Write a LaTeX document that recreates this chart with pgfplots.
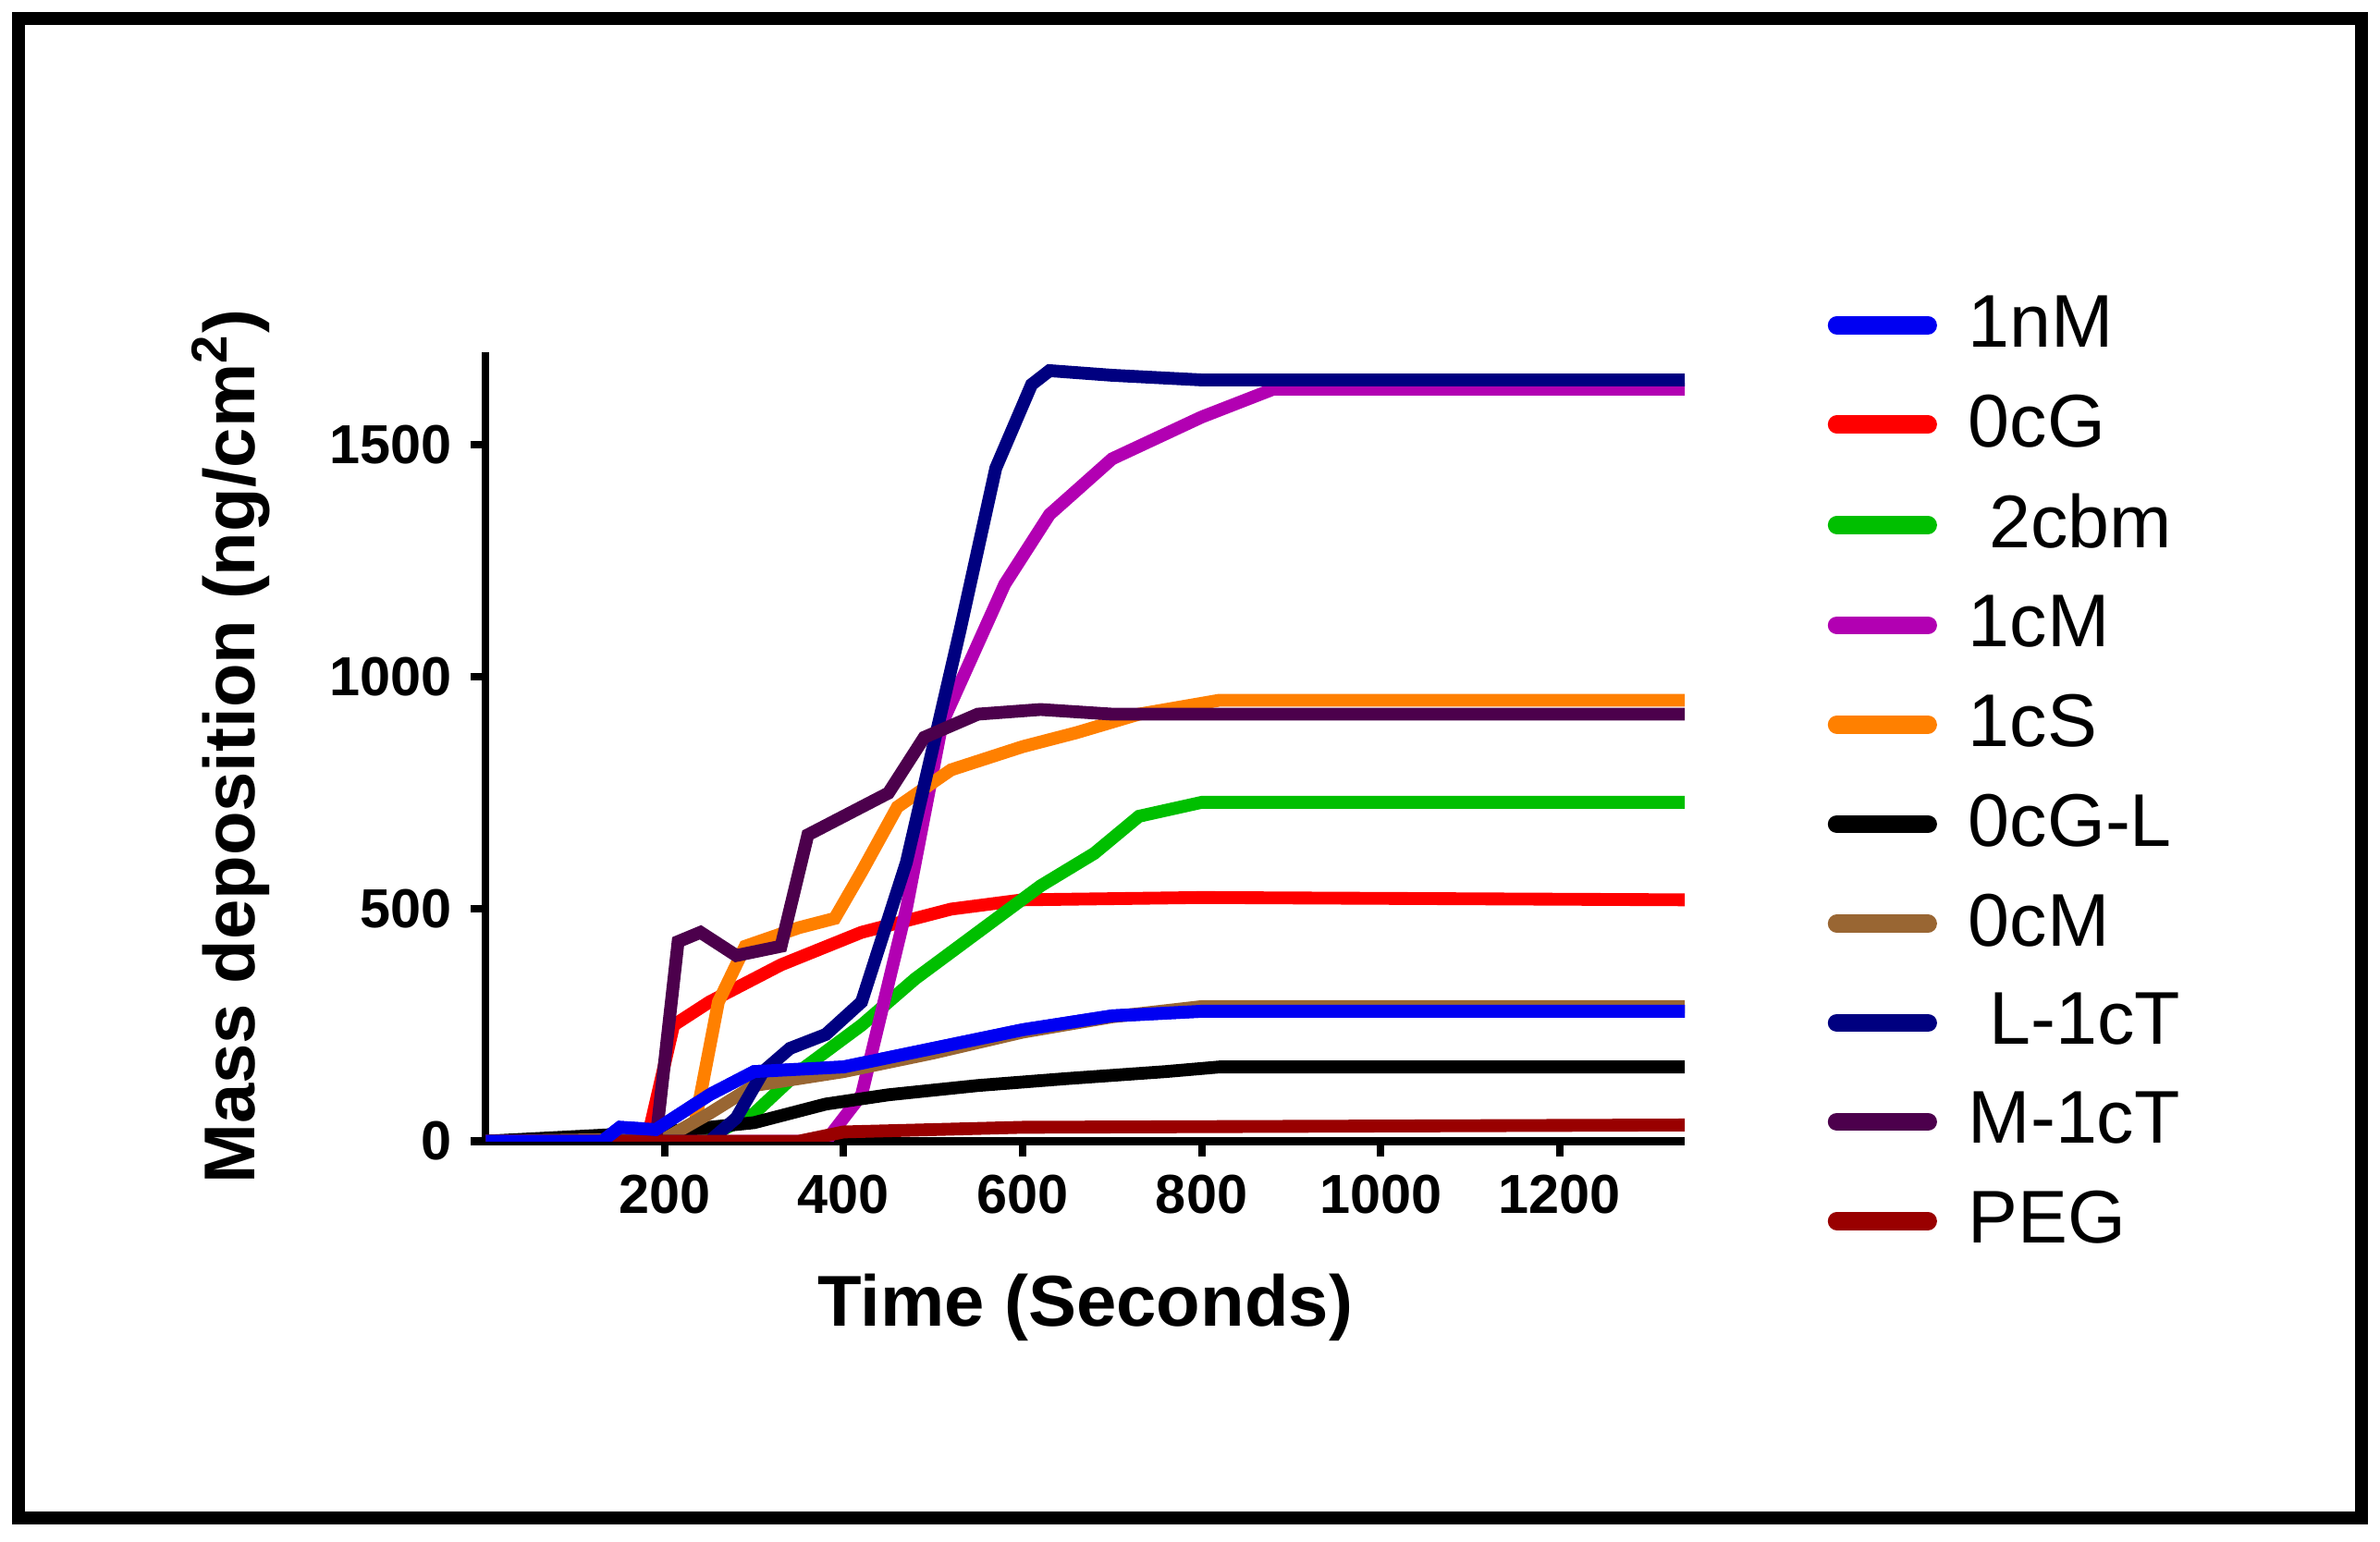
\documentclass[border=0pt]{standalone}
\usepackage{pgfplots}
\pgfplotsset{compat=1.18}
\usepackage{fontspec}
\setmainfont{Liberation Sans}
\begin{document}
\begin{tikzpicture}
\path (0,0) rectangle (15.68cm,10.16cm);
\draw[line width=2.4pt] (0.12cm,0.16cm) rectangle (15.56cm,10.04cm);
\begin{axis}[at={(3.2cm,2.64cm)},anchor=origin,
 scale only axis, width=7.9cm, height=5.2cm,
 xmin=0,xmax=1340,ymin=0,ymax=1700,
 axis x line=bottom, axis y line=left,
 axis line style={line width=1.4pt,-},
 tick style={line width=1.4pt,black}, tick align=outside, major tick length=1mm,
 xtick={200,400,...,1200}, ytick={0,500,1000,1500},
 /pgf/number format/assume math mode=true,
 /pgf/number format/set thousands separator={},
 ticklabel style={font=\bfseries\fontsize{10.3}{12}\selectfont},
 xlabel={\bfseries Time (Seconds)}, ylabel={\bfseries Mass deposition (ng/cm$^{\mathbf 2}$)},
 label style={font=\bfseries\fontsize{13.5}{15}\selectfont},
 xlabel style={yshift=-1.5mm}, ylabel style={yshift=1.5mm},
 legend style={draw=none,at={(1.105,1.10)},anchor=north west,font=\fontsize{14}{16}\selectfont,row sep=3.4pt,fill=none},
 legend cell align=left,
 legend image code/.code={\draw[line width=3.4pt,line cap=round] (0cm,0cm) -- (0.6cm,0cm);},
]
\addplot[line width=2.4pt,color=blue!95!black] coordinates {(0,0)(130,0)(150,30)(190,25)(250,100)(300,150)(400,160)(500,200)(600,240)(700,270)(800,280)(1340,280)};
\addlegendentry{\ 1nM}
\addplot[line width=2.4pt,color=red] coordinates {(0,0)(180,0)(210,250)(250,300)(330,380)(420,450)(520,500)(600,520)(800,525)(1340,520)};
\addlegendentry{\ 0cG}
\addplot[line width=2.4pt,color=green!75!black] coordinates {(0,0)(200,0)(250,10)(300,60)(350,150)(420,250)(480,350)(550,450)(620,550)(680,620)(730,700)(800,730)(1340,730)};
\addlegendentry{\ \ 2cbm}
\addplot[line width=2.4pt,color=violet!60!magenta] coordinates {(0,0)(380,0)(420,100)(470,500)(510,900)(580,1200)(630,1350)(700,1470)(800,1560)(880,1620)(1340,1620)};
\addlegendentry{\ 1cM}
\addplot[line width=2.4pt,color=orange] coordinates {(0,0)(230,0)(260,300)(290,420)(350,460)(390,480)(420,580)(460,720)(520,800)(600,850)(660,880)(730,920)(820,950)(1340,950)};
\addlegendentry{\ 1cS}
\addplot[line width=2.4pt,color=black] coordinates {(0,0)(100,10)(200,20)(300,40)(380,80)(450,100)(550,120)(650,135)(760,150)(820,160)(1340,160)};
\addlegendentry{\ 0cG-L}
\addplot[line width=2.4pt,color=brown!80!black] coordinates {(0,0)(200,5)(250,60)(300,120)(400,150)(500,190)(600,235)(700,268)(800,290)(1340,290)};
\addlegendentry{\ 0cM}
\addplot[line width=2.4pt,color=blue!50!black] coordinates {(0,0)(250,0)(280,50)(310,150)(340,200)(380,230)(420,300)(470,600)(530,1100)(570,1450)(610,1630)(630,1660)(700,1650)(800,1640)(1340,1640)};
\addlegendentry{\ \ L-1cT}
\addplot[line width=2.4pt,color=violet!60!black] coordinates {(0,0)(190,0)(215,430)(240,450)(280,400)(330,420)(360,660)(400,700)(450,750)(490,870)(550,920)(620,930)(700,920)(1340,920)};
\addlegendentry{\ M-1cT}
\addplot[line width=2.4pt,color=red!60!black] coordinates {(0,0)(350,0)(400,20)(600,30)(1340,35)};
\addlegendentry{\ PEG}
\addplot[line width=2.4pt,color=blue!95!black,forget plot] coordinates {(0,0)(130,0)(150,30)(190,25)(250,100)(300,150)(400,160)(500,200)(600,240)(700,270)(800,280)(1340,280)};
\end{axis}
\end{tikzpicture}
\end{document}
